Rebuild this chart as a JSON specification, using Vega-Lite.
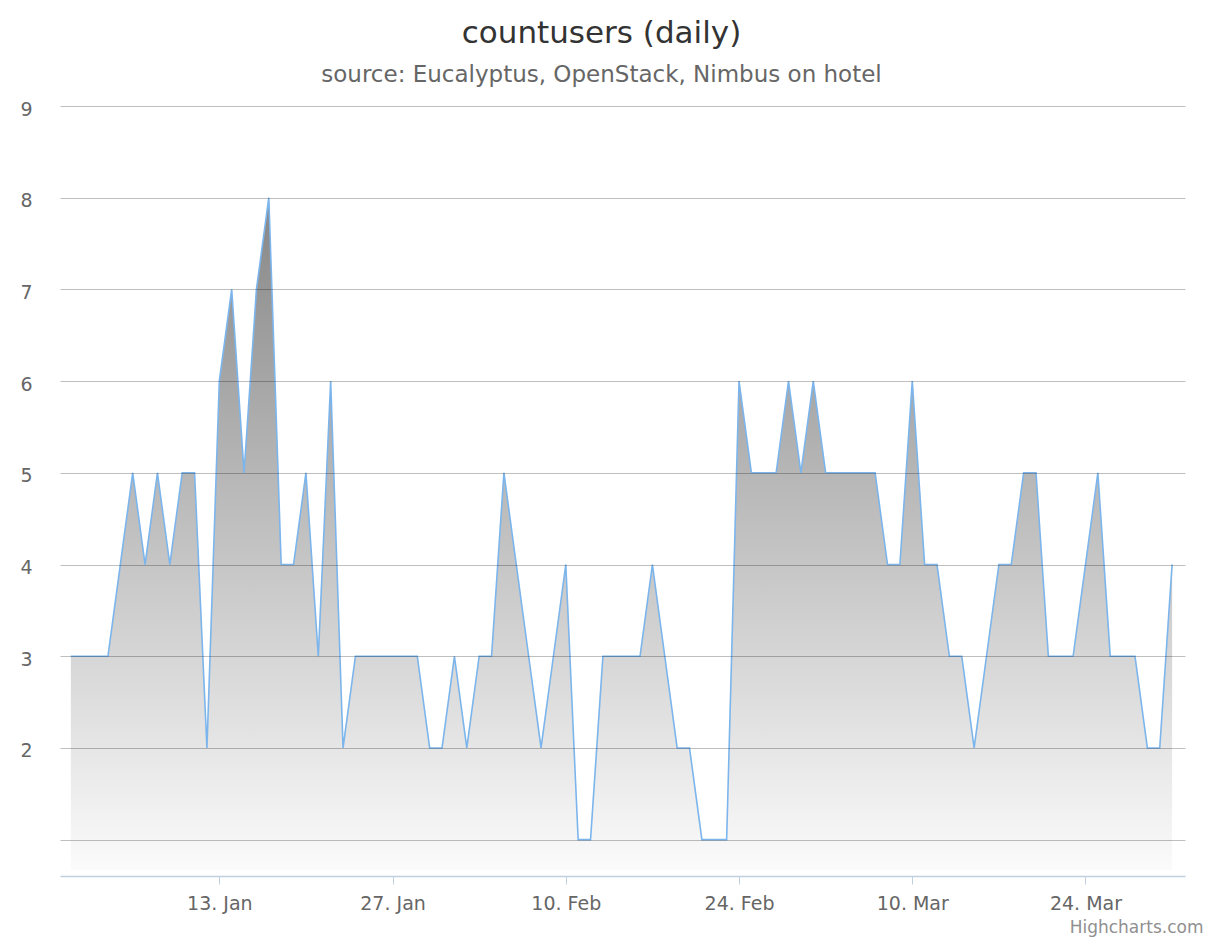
{
  "$schema": "https://vega.github.io/schema/vega-lite/v6.json",
  "width": 1125,
  "height": 764,
  "autosize": {"type": "none"},
  "padding": {"left": 60, "top": 106, "right": 36, "bottom": 68},
  "background": "white",
  "config": {
    "view": {"stroke": null},
    "font": "DejaVu Sans"
  },
  "title": {
    "text": "countusers (daily)",
    "subtitle": "source: Eucalyptus, OpenStack, Nimbus on hotel",
    "anchor": "middle",
    "dx": -21,
    "offset": 12,
    "font": "DejaVu Sans",
    "fontSize": 31,
    "fontWeight": 500,
    "color": "#333333",
    "subtitleFont": "DejaVu Sans",
    "subtitleFontSize": 23,
    "subtitleColor": "#666666",
    "subtitlePadding": 14
  },
  "data": {
    "values": [
      {"date": "2014-01-01", "users": 3}, {"date": "2014-01-02", "users": 3}, {"date": "2014-01-03", "users": 3},
      {"date": "2014-01-04", "users": 3}, {"date": "2014-01-05", "users": 4}, {"date": "2014-01-06", "users": 5},
      {"date": "2014-01-07", "users": 4}, {"date": "2014-01-08", "users": 5}, {"date": "2014-01-09", "users": 4},
      {"date": "2014-01-10", "users": 5}, {"date": "2014-01-11", "users": 5}, {"date": "2014-01-12", "users": 2},
      {"date": "2014-01-13", "users": 6}, {"date": "2014-01-14", "users": 7}, {"date": "2014-01-15", "users": 5},
      {"date": "2014-01-16", "users": 7}, {"date": "2014-01-17", "users": 8}, {"date": "2014-01-18", "users": 4},
      {"date": "2014-01-19", "users": 4}, {"date": "2014-01-20", "users": 5}, {"date": "2014-01-21", "users": 3},
      {"date": "2014-01-22", "users": 6}, {"date": "2014-01-23", "users": 2}, {"date": "2014-01-24", "users": 3},
      {"date": "2014-01-25", "users": 3}, {"date": "2014-01-26", "users": 3}, {"date": "2014-01-27", "users": 3},
      {"date": "2014-01-28", "users": 3}, {"date": "2014-01-29", "users": 3}, {"date": "2014-01-30", "users": 2},
      {"date": "2014-01-31", "users": 2}, {"date": "2014-02-01", "users": 3}, {"date": "2014-02-02", "users": 2},
      {"date": "2014-02-03", "users": 3}, {"date": "2014-02-04", "users": 3}, {"date": "2014-02-05", "users": 5},
      {"date": "2014-02-06", "users": 4}, {"date": "2014-02-07", "users": 3}, {"date": "2014-02-08", "users": 2},
      {"date": "2014-02-09", "users": 3}, {"date": "2014-02-10", "users": 4}, {"date": "2014-02-11", "users": 1},
      {"date": "2014-02-12", "users": 1}, {"date": "2014-02-13", "users": 3}, {"date": "2014-02-14", "users": 3},
      {"date": "2014-02-15", "users": 3}, {"date": "2014-02-16", "users": 3}, {"date": "2014-02-17", "users": 4},
      {"date": "2014-02-18", "users": 3}, {"date": "2014-02-19", "users": 2}, {"date": "2014-02-20", "users": 2},
      {"date": "2014-02-21", "users": 1}, {"date": "2014-02-22", "users": 1}, {"date": "2014-02-23", "users": 1},
      {"date": "2014-02-24", "users": 6}, {"date": "2014-02-25", "users": 5}, {"date": "2014-02-26", "users": 5},
      {"date": "2014-02-27", "users": 5}, {"date": "2014-02-28", "users": 6}, {"date": "2014-03-01", "users": 5},
      {"date": "2014-03-02", "users": 6}, {"date": "2014-03-03", "users": 5}, {"date": "2014-03-04", "users": 5},
      {"date": "2014-03-05", "users": 5}, {"date": "2014-03-06", "users": 5}, {"date": "2014-03-07", "users": 5},
      {"date": "2014-03-08", "users": 4}, {"date": "2014-03-09", "users": 4}, {"date": "2014-03-10", "users": 6},
      {"date": "2014-03-11", "users": 4}, {"date": "2014-03-12", "users": 4}, {"date": "2014-03-13", "users": 3},
      {"date": "2014-03-14", "users": 3}, {"date": "2014-03-15", "users": 2}, {"date": "2014-03-16", "users": 3},
      {"date": "2014-03-17", "users": 4}, {"date": "2014-03-18", "users": 4}, {"date": "2014-03-19", "users": 5},
      {"date": "2014-03-20", "users": 5}, {"date": "2014-03-21", "users": 3}, {"date": "2014-03-22", "users": 3},
      {"date": "2014-03-23", "users": 3}, {"date": "2014-03-24", "users": 4}, {"date": "2014-03-25", "users": 5},
      {"date": "2014-03-26", "users": 3}, {"date": "2014-03-27", "users": 3}, {"date": "2014-03-28", "users": 3},
      {"date": "2014-03-29", "users": 2}, {"date": "2014-03-30", "users": 2}, {"date": "2014-03-31", "users": 4}
    ]
  },
  "mark": {
    "type": "area",
    "interpolate": "linear",
    "opacity": 1,
    "fillOpacity": 1,
    "color": {
      "gradient": "linear",
      "x1": 0, "y1": 0, "x2": 0, "y2": 1,
      "stops": [
        {"offset": 0, "color": "#868686"},
        {"offset": 0.4, "color": "#b5b5b5"},
        {"offset": 0.7, "color": "#d8d8d8"},
        {"offset": 1, "color": "#fbfbfb"}
      ]
    },
    "line": {"color": "#7cb5ec", "strokeWidth": 1.6}
  },
  "encoding": {
    "x": {
      "field": "date",
      "type": "temporal",
      "scale": {
        "type": "utc",
        "domain": [
          {"year": 2013, "month": 12, "date": 31, "hours": 3, "utc": true},
          {"year": 2014, "month": 4, "date": 1, "hours": 1, "utc": true}
        ]
      },
      "axis": {
        "values": [
          {"year": 2014, "month": 1, "date": 13, "utc": true},
          {"year": 2014, "month": 1, "date": 27, "utc": true},
          {"year": 2014, "month": 2, "date": 10, "utc": true},
          {"year": 2014, "month": 2, "date": 24, "utc": true},
          {"year": 2014, "month": 3, "date": 10, "utc": true},
          {"year": 2014, "month": 3, "date": 24, "utc": true}
        ],
        "format": "%-d. %b",
        "offset": 6,
        "grid": false,
        "domainColor": "#c0d0e0",
        "domainWidth": 1.5,
        "tickColor": "#c0d0e0",
        "tickSize": 8,
        "tickWidth": 1,
        "labelFont": "DejaVu Sans",
        "labelFontSize": 19,
        "labelColor": "#666666",
        "labelPadding": 10,
        "title": "Highcharts.com",
        "titleFont": "DejaVu Sans",
        "titleFontSize": 17,
        "titleFontWeight": "normal",
        "titleColor": "#909090",
        "titleAnchor": "end",
        "titleAlign": "right",
        "titleX": 1143,
        "titlePadding": 6
      }
    },
    "y": {
      "field": "users",
      "type": "quantitative",
      "scale": {"domain": [0.669, 9], "nice": false, "zero": false},
      "axis": {
        "values": [1, 2, 3, 4, 5, 6, 7, 8, 9],
        "labelExpr": "datum.value == 1 ? '' : datum.label",
        "zindex": 1,
        "domain": false,
        "ticks": false,
        "grid": true,
        "gridColor": "#000000",
        "gridOpacity": 0.25,
        "gridWidth": 1,
        "labelFont": "DejaVu Sans",
        "labelFontSize": 19,
        "labelColor": "#666666",
        "labelPadding": 28,
        "labelOffset": 3,
        "title": null
      }
    },
    "y2": {"datum": 0.669}
  }
}
